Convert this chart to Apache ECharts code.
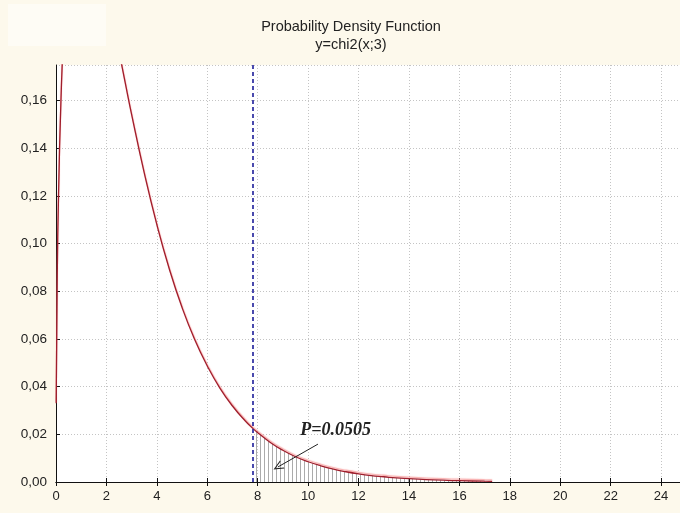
<!DOCTYPE html>
<html><head><meta charset="utf-8">
<script src="https://cdn.jsdelivr.net/npm/echarts@6/dist/echarts.min.js"></script>
<style>html,body{margin:0;padding:0;background:#fdf9ec}#c{width:680px;height:513px}</style>
</head><body><div id="c"></div><script>
// Chi-square density (df = 3)
const xValues = [0.007, 0.05, 0.1, 0.2, 0.3, 0.4, 0.5, 0.75, 1, 1.25, 1.5, 1.75, 2, 2.25, 2.5, 2.75, 3, 3.5, 4, 4.5, 5, 5.5, 6, 6.5, 7, 7.5, 7.815, 8, 8.5, 9, 9.5, 10, 10.5, 11, 11.5, 12, 12.5, 13, 13.5, 14, 15, 16, 17, 17.3];
const yValues = [0.033, 0.087, 0.120, 0.1614, 0.1881, 0.2066, 0.2197, 0.2375, 0.2420, 0.2388, 0.2308, 0.2200, 0.2076, 0.1943, 0.1807, 0.1673, 0.1542, 0.1297, 0.1080, 0.0892, 0.0732, 0.0598, 0.0487, 0.0394, 0.0319, 0.0257, 0.0224, 0.0207, 0.0166, 0.0133, 0.0106, 0.0085, 0.0068, 0.0054, 0.0043, 0.0034, 0.0027, 0.0022, 0.0017, 0.0014, 0.00085, 0.00054, 0.00033, 0.00028];
const criticalX = [7.815];
const pLabelText = ['P=0.0505'];
const pLabelPos = [11.09, 0.0218];
const arrowFrom = [10.39, 0.0159];
const arrowTo = [8.80, 0.0063];
const xTickLabels = ['0','2','4','6','8','10','12','14','16','18','20','22','24'];
const yTickLabels = ['0,00','0,02','0,04','0,06','0,08','0,10','0,12','0,14','0,16'];
const titleLines = ['Probability Density Function', 'y=chi2(x;3)'];

const curve = xValues.map((x, i) => [x, yValues[i]]);
const tail = curve.filter(p => p[0] >= criticalX[0]);

// hatch pattern (vertical lines)
const pc = document.createElement('canvas');
pc.width = 4; pc.height = 4;
const pctx = pc.getContext('2d');
pctx.fillStyle = '#ababab';
pctx.fillRect(0, 0, 1, 4);

const font = '"Liberation Sans", Arial, sans-serif';
const chart = echarts.init(document.getElementById('c'));
chart.setOption({
  backgroundColor: '#fdf9ec',
  animation: false,
  graphic: [
    { type: 'rect', left: 8, top: 4, shape: { width: 98, height: 42 }, style: { fill: '#fefcf5' }, z: -1 },
    { type: 'text', x: 351, y: 27, style: { text: titleLines[0], font: '14.5px ' + font, fill: '#222', textAlign: 'center', textVerticalAlign: 'middle' } },
    { type: 'text', x: 351, y: 45, style: { text: titleLines[1], font: '14.5px ' + font, fill: '#222', textAlign: 'center', textVerticalAlign: 'middle' } }
  ],
  grid: { left: 56, right: 0, top: 65, bottom: 31, show: true, backgroundColor: '#ffffff', borderWidth: 0 },
  xAxis: [{
    type: 'value', min: 0, max: 24.75, interval: 2,
    axisLine: { show: true, onZero: false, lineStyle: { color: '#111', width: 1 } },
    axisTick: { show: true, inside: true, length: 4, lineStyle: { color: '#111' } },
    axisLabel: { color: '#222', fontSize: 13, fontFamily: font, margin: 8, showMaxLabel: false,
      formatter: v => { const i = Math.round(v / 2); return Math.abs(v - i * 2) < 1e-6 && xTickLabels[i] !== undefined ? xTickLabels[i] : ''; } },
    splitLine: { show: true, lineStyle: { color: '#c4c4c4', type: [1, 2], width: 1 } }
  }, {
    type: 'value', position: 'top', min: 0, max: 24.75, interval: 2,
    axisLine: { show: true, lineStyle: { color: '#111', width: 1 } },
    axisTick: { show: true, inside: true, length: 4, lineStyle: { color: '#111' } },
    axisLabel: { show: false }, splitLine: { show: false }
  }],
  yAxis: {
    type: 'value', min: 0, max: 0.175, interval: 0.02,
    axisLine: { show: true, lineStyle: { color: '#111', width: 1 } },
    axisTick: { show: true, inside: true, length: 4, lineStyle: { color: '#111' } },
    axisLabel: { color: '#222', fontSize: 13.5, fontFamily: font, margin: 9, showMaxLabel: false,
      formatter: v => { const i = Math.round(v / 0.02); return Math.abs(v - i * 0.02) < 1e-9 && yTickLabels[i] !== undefined ? yTickLabels[i] : ''; } },
    splitLine: { show: true, lineStyle: { color: '#c4c4c4', type: [1, 2], width: 1 } }
  },
  series: [
    {
      type: 'line', data: tail, symbol: 'none', smooth: false,
      lineStyle: { width: 0, opacity: 0 },
      areaStyle: { color: { image: pc, repeat: 'repeat' }, opacity: 1 },
      z: 1, silent: true
    },
    {
      type: 'line', data: curve, symbol: 'none', smooth: true, clip: true,
      lineStyle: { color: '#a01e2c', width: 1.3, shadowColor: 'rgba(245,130,130,0.7)', shadowBlur: 1, shadowOffsetY: -1.5 },
      z: 3,
      markLine: {
        silent: true, animation: false, symbol: ['none', 'none'], label: { show: false },
        data: [
          { xAxis: criticalX[0], lineStyle: { color: '#1d1d9a', width: 1.6, type: [4, 3] } },
          [
            { coord: arrowFrom, symbol: 'none', lineStyle: { color: '#222', width: 1, type: 'solid' } },
            { coord: arrowTo, symbol: 'path://M5,0 L10,10 L8.8,10 L5,2.4 L1.2,10 L0,10 Z', symbolSize: [9, 10] }
          ]
        ]
      },
      markPoint: {
        silent: true, symbol: 'circle', symbolSize: 0,
        data: [{ coord: pLabelPos, value: pLabelText[0] }],
        label: { show: true, position: 'inside', formatter: pLabelText[0], color: '#222',
          fontFamily: '"Liberation Serif", "Times New Roman", serif', fontWeight: 'bold', fontStyle: 'italic', fontSize: 18 }
      }
    }
  ]
});
</script></body></html>
